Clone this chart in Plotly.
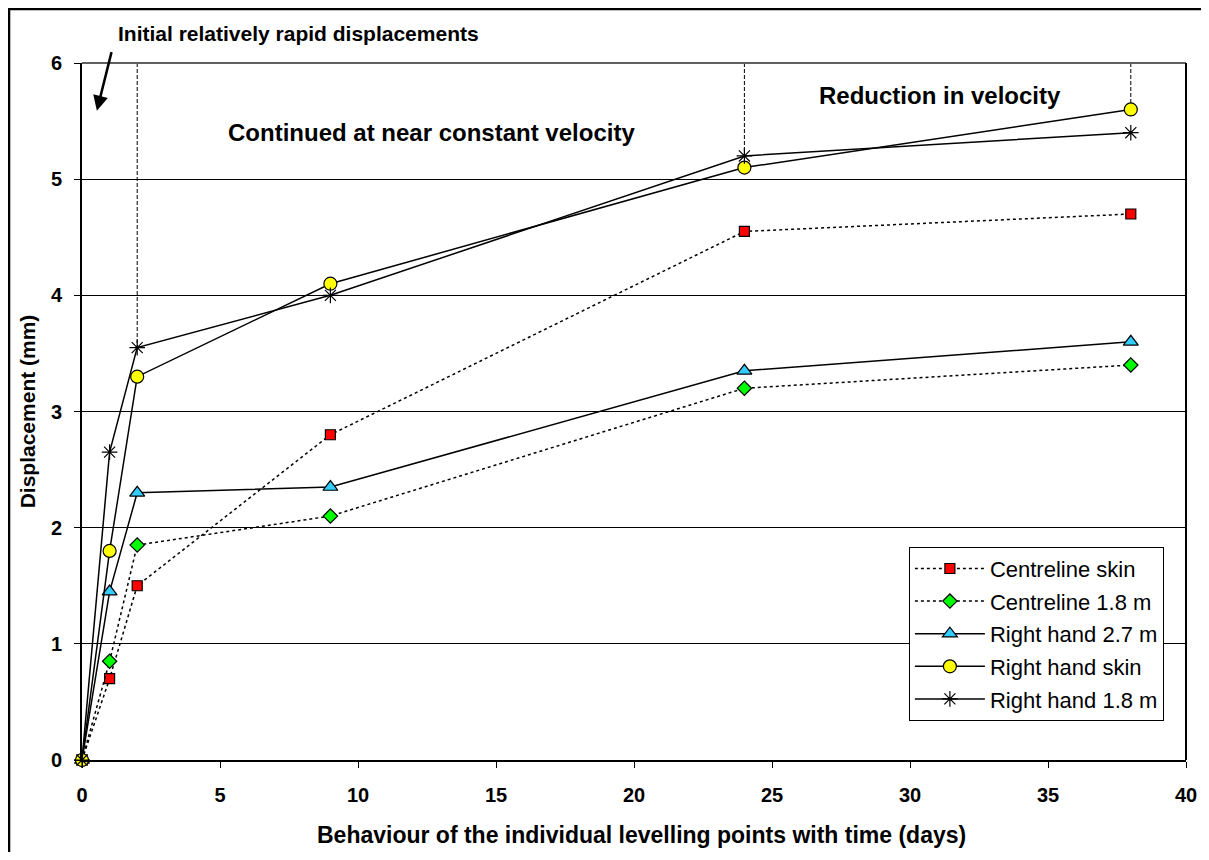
import plotly.graph_objects as go

days = [0, 1, 2, 9, 24, 38]
centreline_skin = [0, 0.7, 1.5, 2.8, 4.55, 4.7]
centreline_18 = [0, 0.85, 1.85, 2.1, 3.2, 3.4]
right_27 = [0, 1.45, 2.3, 2.35, 3.35, 3.6]
right_skin = [0, 1.8, 3.3, 4.1, 5.1, 5.6]
right_18 = [0, 2.65, 3.55, 4.0, 5.2, 5.4]
milestones = [2, 24, 38]

series = [
    ("Centreline skin", centreline_skin, "square", "#FF0000", 10, "3px,3px"),
    ("Centreline 1.8 m", centreline_18, "diamond", "#00FF00", 11, "3px,3px"),
    ("Right hand 2.7 m", right_27, "triangle-up", "#33CCFF", 13, "solid"),
    ("Right hand skin", right_skin, "circle", "#FFFF00", 13, "solid"),
    ("Right hand 1.8 m", right_18, "asterisk-open", "#000000", 13, "solid"),
]

fig = go.Figure()

# dashed guide lines from top of plot down to the highest point at each stage
for d in milestones:
    i = days.index(d)
    top = max(s[1][i] for s in series)
    fig.add_shape(type="line", xref="x", yref="y", x0=d, x1=d, y0=6, y1=top,
                  line=dict(color="black", width=1, dash="4px,2px"), layer="below")

for i, (name, vals, sym, col, size, dash) in enumerate(series):
    fig.add_trace(go.Scatter(
        x=days, y=vals, name=name, mode="lines+markers",
        line=dict(color="black", width=1.5, dash=dash),
        marker=dict(symbol=sym, color=col, size=size,
                    line=dict(color="black", width=1.2)),
        cliponaxis=False, legendgroup="g%d" % i,
    ))

bold = dict(family="Arial, Liberation Sans, sans-serif", weight="bold", color="black")

fig.add_annotation(x=0.54, y=5.59, ax=15, ay=-60, xref="x", yref="y", text="",
                   showarrow=True, arrowhead=2, arrowsize=1.2, arrowwidth=2.5, arrowcolor="black")
fig.add_annotation(x=7.86, y=1.043, xref="x", yref="paper", yanchor="middle",
                   text="Initial relatively rapid displacements",
                   showarrow=False, font=dict(bold, size=21))
fig.add_annotation(x=12.68, y=5.40, xref="x", yref="y", text="Continued at near constant velocity",
                   showarrow=False, font=dict(bold, size=24))
fig.add_annotation(x=31.09, y=5.72, xref="x", yref="y", text="Reduction in velocity",
                   showarrow=False, font=dict(bold, size=24))
# x axis title, placed slightly right of the plot centre as in the original
fig.add_annotation(x=0.507, y=-0.108, xref="paper", yref="paper", xanchor="center", yanchor="middle",
                   text="Behaviour of the individual levelling points with time (days)",
                   showarrow=False, font=dict(bold, size=23))

# outer frame and plot area border
fig.add_shape(type="rect", xref="paper", yref="paper", x0=-0.0661, x1=1.2, y0=-0.3, y1=1.0775,
              line=dict(color="black", width=2.5))
fig.add_shape(type="line", xref="paper", yref="paper", x0=0, x1=1, y0=1, y1=1,
              line=dict(color="#606060", width=2))
fig.add_shape(type="line", xref="paper", yref="paper", x0=1, x1=1, y0=0, y1=1,
              line=dict(color="black", width=2))

fig.update_layout(
    width=1193, height=844,
    margin=dict(l=74, r=15, t=55, b=92),
    plot_bgcolor="white", paper_bgcolor="white",
    font=dict(family="Arial, Liberation Sans, sans-serif", color="black"),
    xaxis=dict(
        range=[0, 40], dtick=5, showgrid=False, zeroline=False, automargin=False,
        showline=True, linecolor="black", linewidth=2,
        ticks="outside", ticklen=6, tickcolor="black", ticklabelstandoff=10,
        tickfont=dict(bold, size=20),
    ),
    yaxis=dict(
        range=[0, 6], dtick=1, showgrid=True, gridcolor="black", gridwidth=1, zeroline=False,
        automargin=False,
        showline=True, linecolor="black", linewidth=2,
        ticks="outside", ticklen=6, tickcolor="black", ticklabelstandoff=8,
        tickfont=dict(bold, size=20),
        title=dict(text="Displacement (mm)", font=dict(bold, size=21), standoff=10),
    ),
    legend=dict(
        x=0.749, y=0.306, xanchor="left", yanchor="top",
        bgcolor="white", bordercolor="black", borderwidth=1,
        font=dict(size=22), tracegroupgap=1, itemwidth=70,
    ),
)

fig.write_html("out.html")
